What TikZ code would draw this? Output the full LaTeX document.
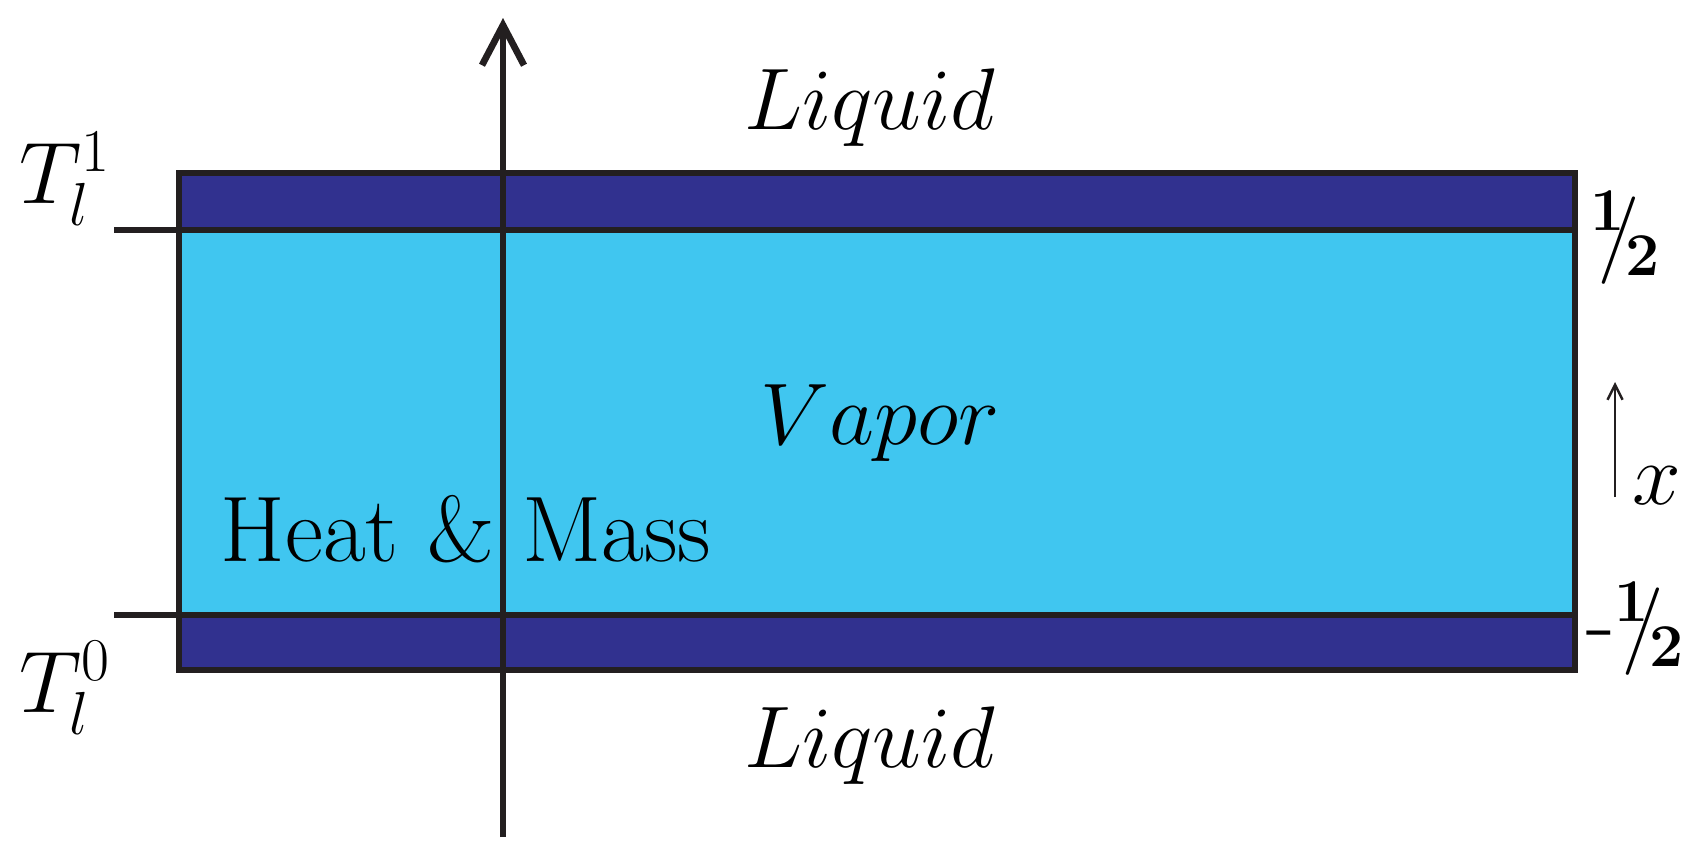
\documentclass[tikz,border=0pt]{standalone}
\usetikzlibrary{arrows.meta}
\definecolor{dark}{HTML}{31318F}
\definecolor{vap}{HTML}{40C6F0}
\definecolor{ln}{HTML}{231F20}
\begin{document}
\begin{tikzpicture}[x=0.01cm,y=-0.01cm,
  big/.style={font=\fontsize{25}{30}\selectfont, text=black, inner sep=0pt},
  thick line/.style={line width=1.9pt, draw=ln}]
\useasboundingbox (0,0) rectangle (1700,860);
\fill[dark] (179,173) rectangle (1575,670);
\fill[vap] (179,230) rectangle (1575,615);
\draw[thick line] (179,173) rectangle (1575,670);
\coordinate (t1) at (114,230); \coordinate (t1e) at (1575,230);
\coordinate (t0) at (114,615); \coordinate (t0e) at (1575,615);
\draw[thick line] (t1) -- (t1e);
\draw[thick line] (t0) -- (t0e);
\coordinate (ab) at (503,837); \coordinate (at) at (503,18);
\draw[thick line, -{Straight Barb[length=0.4cm,width=0.42cm,line width=1.9pt]}] (ab) -- (at);
\node[big] (lq1) at (870,108) {$Liquid$};
\node[big] (lq0) at (870,746) {$Liquid$};
\node[big] (vp) at (880,423) {$Vapor$};
\node[big, font=\fontsize{26.5}{30}\selectfont] (hm) at (466,529) {Heat \& Mass};
\node[big] (T1) at (65,179) {$T_l^1$};
\node[big] (T0) at (65,688) {$T_l^0$};
\node[big, font=\fontsize{27}{30}\selectfont] (h1) at (1626,238) {$\mathbf{{}^1\!\!/\!{}_2}$};
\node[big, font=\fontsize{27}{30}\selectfont] (h0) at (1636,629) {$\mathbf{\mbox{-}{}^1\!\!/\!{}_2}$};
\coordinate (xb) at (1615,497); \coordinate (xt) at (1615,382);
\draw[line width=0.7pt, draw=ln, -{Straight Barb[length=0.15cm,width=0.15cm]}] (xb) -- (xt);
\node[big] (xl) at (1657,486) {$x$};
\end{tikzpicture}
\end{document}
